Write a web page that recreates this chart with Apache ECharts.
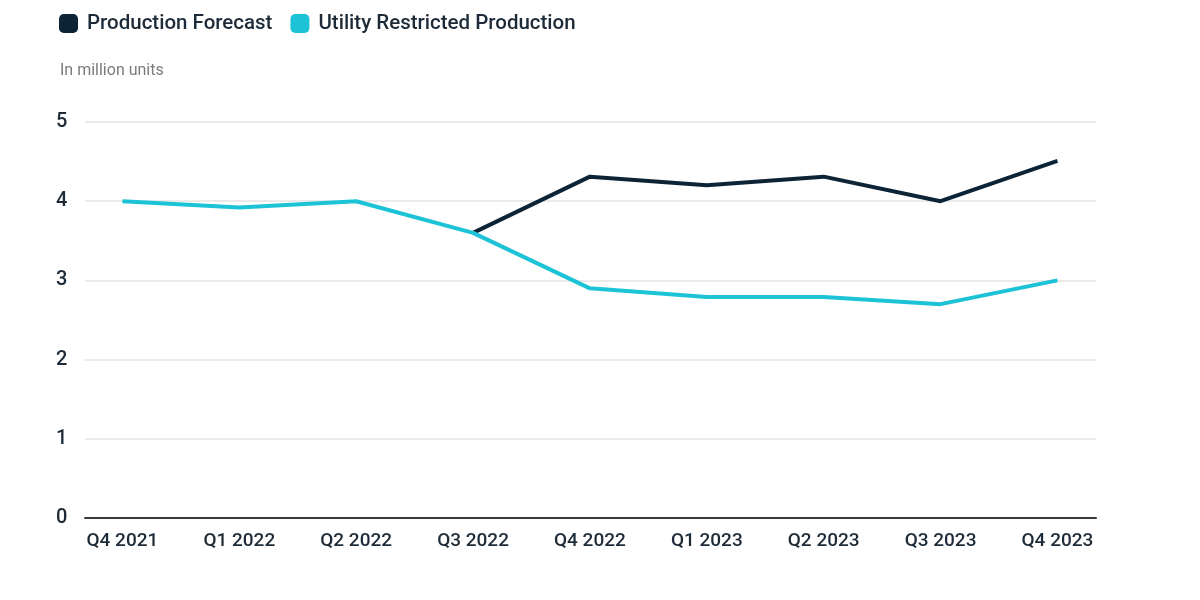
<!DOCTYPE html>
<html>
<head>
<meta charset="utf-8">
<script src="https://cdn.jsdelivr.net/npm/echarts@6/dist/echarts.min.js"></script>
<style>html,body{margin:0;padding:0;background:#fff}#c{width:1200px;height:600px}</style>
</head>
<body>
<div id="c"></div>
<script>
const categories = ['Q4 2021','Q1 2022','Q2 2022','Q3 2022','Q4 2022','Q1 2023','Q2 2023','Q3 2023','Q4 2023'];
const productionForecast = [null, null, null, 3.6, 4.31, 4.2, 4.31, 4.0, 4.51];
const utilityRestricted = [4.0, 3.92, 4.0, 3.6, 2.9, 2.79, 2.79, 2.7, 3.0];
const yTicks = [0, 1, 2, 3, 4, 5];

const toPairs = arr => arr.map((v, i) => [i, v]);
const FONT = 'Roboto';
const chart = echarts.init(document.getElementById('c'));
chart.setOption({
  animation: false,
  title: {
    text: 'In million units', left: 55, top: 58,
    textStyle: {fontFamily: FONT, fontSize: 16, fontWeight: 'normal', color: '#7a7a7a'}
  },
  legend: {
    left: 54, top: 8, itemWidth: 19, itemHeight: 19, itemGap: 18,
    icon: 'roundRect',
    textStyle: {fontFamily: FONT, fontSize: 20.5, fontWeight: 500, color: '#1d2b38', padding: [0,0,0,4]},
    data: ['Production Forecast', 'Utility Restricted Production']
  },
  grid: {left: 85, right: 104, top: 122, bottom: 82, containLabel: false},
  xAxis: {
    type: 'value', min: -0.32, max: 8.33,
    splitLine: {show: false},
    axisTick: {show: false},
    axisLine: {show: true, lineStyle: {color: '#3a3a3a', width: 2}},
    axisLabel: {
      customValues: categories.map((c, i) => i),
      formatter: v => categories[Math.round(v)],
      fontFamily: FONT, fontSize: 19, fontWeight: 500, color: '#1d2b38', margin: 14
    }
  },
  yAxis: {
    type: 'value', min: 0, max: 5, interval: 1,
    axisLine: {show: false}, axisTick: {show: false},
    splitLine: {lineStyle: {color: '#e3e3e3', width: 1.5}},
    axisLabel: {
      customValues: yTicks,
      fontFamily: FONT, fontSize: 20, fontWeight: 500, color: '#1d2b38', margin: 29, align: 'left',
      showMinLabel: true
    }
  },
  series: [
    {
      name: 'Production Forecast', type: 'line', data: toPairs(productionForecast),
      showSymbol: false, symbol: 'none', connectNulls: false,
      lineStyle: {color: '#0d2436', width: 4}, itemStyle: {color: '#0d2436'}
    },
    {
      name: 'Utility Restricted Production', type: 'line', data: toPairs(utilityRestricted),
      showSymbol: false, symbol: 'none',
      lineStyle: {color: '#1cc3d7', width: 4}, itemStyle: {color: '#1cc3d7'}
    }
  ]
});
</script>
</body>
</html>
